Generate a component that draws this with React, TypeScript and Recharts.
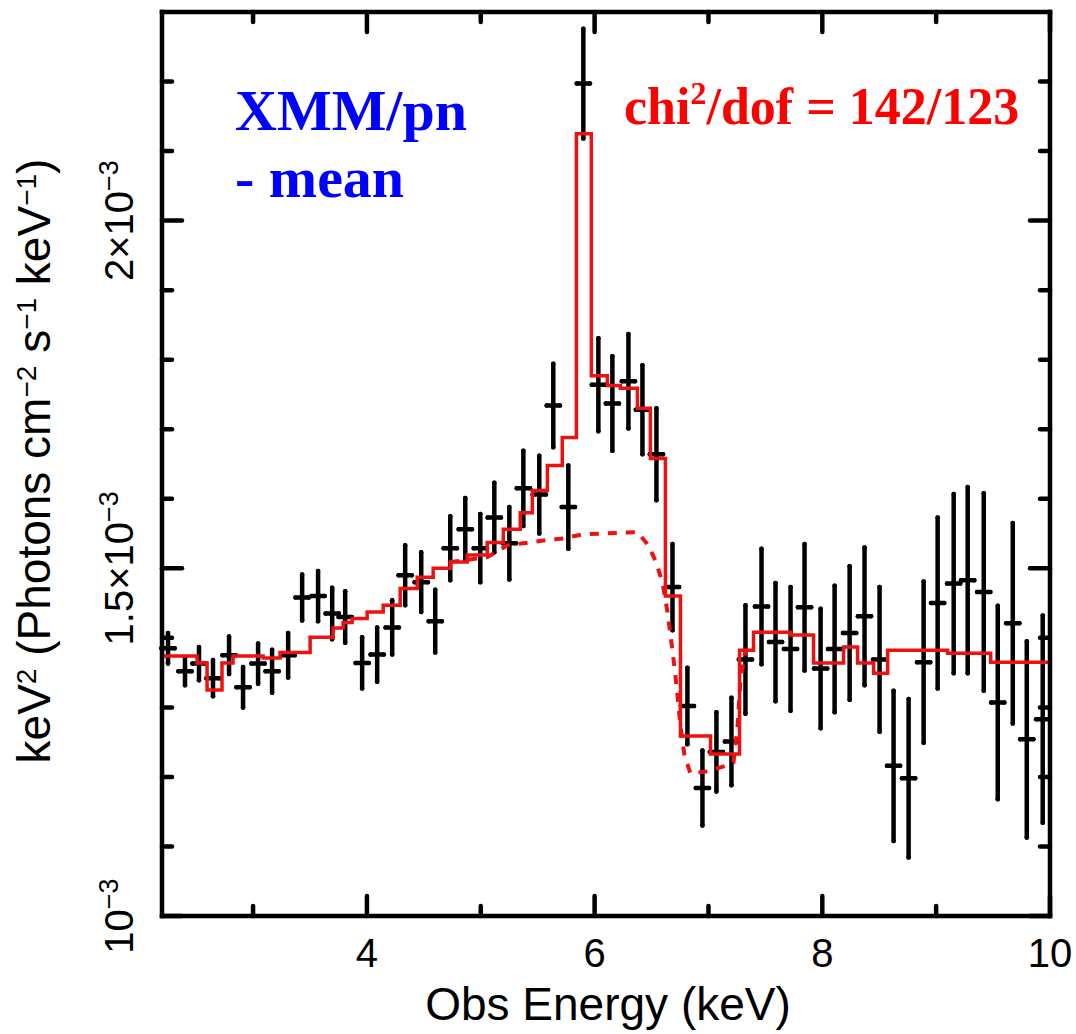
import React from 'react';
import { ComposedChart, Scatter, Line, XAxis, YAxis, ErrorBar } from 'recharts';

// Observed energy (keV), bin centres
const ENERGY = [
  2.253, 2.402, 2.525, 2.648, 2.789, 2.912, 3.044, 3.167, 3.308, 3.431,
  3.571, 3.695, 3.809, 3.958, 4.090, 4.222, 4.336, 4.477, 4.600, 4.732,
  4.864, 4.996, 5.119, 5.251, 5.374, 5.514, 5.637, 5.769, 5.901, 6.033,
  6.156, 6.297, 6.420, 6.543, 6.684, 6.815, 6.947, 7.070, 7.202, 7.325,
  7.466, 7.589, 7.721, 7.844, 7.985, 8.108, 8.240, 8.371, 8.503, 8.626,
  8.758, 8.890, 9.013, 9.154, 9.277, 9.418, 9.541, 9.673, 9.796, 9.936,
];
// keV^2 flux in units of 1e-3
const FLUX = [
  1.385, 1.352, 1.363, 1.342, 1.375, 1.329, 1.363, 1.352, 1.375, 1.458,
  1.460, 1.435, 1.430, 1.364, 1.376, 1.415, 1.490, 1.480, 1.424, 1.529,
  1.556, 1.529, 1.573, 1.536, 1.615, 1.606, 1.734, 1.588, 2.197, 1.764,
  1.737, 1.769, 1.728, 1.664, 1.473, 1.302, 1.184, 1.236, 1.251, 1.369,
  1.445, 1.394, 1.384, 1.444, 1.356, 1.384, 1.407, 1.431, 1.369, 1.216,
  1.198, 1.365, 1.450, 1.478, 1.483, 1.466, 1.307, 1.421, 1.254, 1.283,
];
const FLUX_ERR = [
  0.022, 0.020, 0.024, 0.026, 0.027, 0.029, 0.029, 0.031, 0.032, 0.033,
  0.036, 0.037, 0.037, 0.037, 0.039, 0.039, 0.043, 0.043, 0.045, 0.046,
  0.045, 0.049, 0.050, 0.052, 0.054, 0.056, 0.060, 0.060, 0.079, 0.067,
  0.068, 0.068, 0.064, 0.066, 0.062, 0.055, 0.054, 0.057, 0.063, 0.078,
  0.083, 0.085, 0.089, 0.091, 0.086, 0.091, 0.096, 0.099, 0.104, 0.108,
  0.114, 0.116, 0.123, 0.129, 0.134, 0.142, 0.139, 0.144, 0.141, 0.149,
];
const BIN_HALF_WIDTH = 0.058;

// Best-fit model (histogram steps): left bin edge, value
const MODEL_E = [
  2.2, 2.508, 2.596, 2.727, 2.824, 3.088, 3.237, 3.501, 3.703, 3.791,
  3.870, 4.002, 4.143, 4.292, 4.442, 4.582, 4.732, 4.881, 5.057, 5.198,
  5.347, 5.453, 5.585, 5.716, 5.840, 5.971, 6.112, 6.226, 6.376, 6.490,
  6.622, 6.754, 7.018, 7.273, 7.396, 7.721, 7.923, 8.187, 8.310, 8.451,
  8.574, 9.101, 9.479, 10.0,
];
const MODEL_F = [
  1.374, 1.364, 1.325, 1.364, 1.374, 1.371, 1.379, 1.401, 1.414, 1.422,
  1.428, 1.437, 1.447, 1.471, 1.487, 1.500, 1.509, 1.519, 1.537, 1.556,
  1.580, 1.612, 1.648, 1.688, 2.125, 1.777, 1.763, 1.759, 1.730, 1.658,
  1.460, 1.259, 1.233, 1.382, 1.408, 1.404, 1.364, 1.387, 1.364, 1.349,
  1.382, 1.378, 1.365, 1.365,
];

// Continuum without the Fe line (dotted)
const CONT_E = [
  4.732, 5.057, 5.233, 5.374, 5.549, 5.725, 5.901, 6.077, 6.376, 6.473,
  6.534, 6.596, 6.640, 6.684, 6.719, 6.754, 6.789, 6.842, 6.991, 7.149,
  7.220, 7.255, 7.281, 7.325,
];
const CONT_F = [
  1.509, 1.516, 1.533, 1.536, 1.540, 1.543, 1.549, 1.550, 1.552, 1.533,
  1.511, 1.480, 1.437, 1.382, 1.332, 1.274, 1.231, 1.205, 1.208, 1.216,
  1.221, 1.272, 1.339, 1.382,
];

const X_TICKS = [3, 4, 5, 6, 7, 8, 9, 10];
const X_MAJOR = [4, 6, 8, 10];
const Y_TICKS = [1.0, 1.1, 1.2, 1.3, 1.4, 1.5, 1.6, 1.7, 1.8, 1.9, 2.0, 2.1, 2.2];
const Y_MAJOR_LABELS: Record<string, string> = { '1': '', '1.5': '1.5×', '2': '2×' };

const points = ENERGY.map((e, i) => ({ x: e, y: FLUX[i], xErr: BIN_HALF_WIDTH, yErr: FLUX_ERR[i] }));
const model = MODEL_E.map((e, i) => ({ x: e, y: MODEL_F[i] }));
const cont = CONT_E.map((e, i) => ({ x: e, y: CONT_F[i] }));

const SANS = 'Liberation Sans, Arial, Helvetica, sans-serif';
const SERIF = 'Liberation Serif, Times New Roman, serif';
const TICK_W = 4.5;

const isXMajor = (v: number) => X_MAJOR.some((m) => Math.abs(m - v) < 1e-6);
const isYMajor = (v: number) => Math.abs(v * 2 - Math.round(v * 2)) < 1e-6;

const BottomTick = (props: any) => {
  const { x, y, payload } = props;
  const major = isXMajor(payload.value);
  const len = major ? 20 : 10;
  return (
    <g>
      <line x1={x} y1={y} x2={x} y2={y - len} stroke="#000" strokeWidth={TICK_W} strokeLinecap="round" />
      {major && (
        <text x={x} y={y + 51} textAnchor="middle" fontSize={40} fontFamily={SANS} fill="#000">
          {payload.value}
        </text>
      )}
    </g>
  );
};

const TopTick = (props: any) => {
  const { x, y, payload } = props;
  const len = isXMajor(payload.value) ? 20 : 10;
  return <line x1={x} y1={y} x2={x} y2={y + len} stroke="#000" strokeWidth={TICK_W} strokeLinecap="round" />;
};

const LeftTick = (props: any) => {
  const { x, y, payload } = props;
  const v = payload.value;
  const major = isYMajor(v);
  const len = major ? 20 : 10;
  const key = String(Math.round(v * 10) / 10);
  const lx = x - 29;
  return (
    <g>
      <line x1={x} y1={y} x2={x + len} y2={y} stroke="#000" strokeWidth={TICK_W} strokeLinecap="round" />
      {major && (
        <text x={lx} y={y} transform={`rotate(-90 ${lx} ${y})`} textAnchor="middle" fontSize={40} fontFamily={SANS} fill="#000">
          {Y_MAJOR_LABELS[key]}10
          <tspan dy={-15} fontSize={27}>−3</tspan>
        </text>
      )}
    </g>
  );
};

const RightTick = (props: any) => {
  const { x, y, payload } = props;
  const len = isYMajor(payload.value) ? 20 : 10;
  return <line x1={x} y1={y} x2={x - len} y2={y} stroke="#000" strokeWidth={TICK_W} strokeLinecap="round" />;
};

const NoShape = () => <g />;

const axisLine = { stroke: '#000', strokeWidth: 4.5, strokeLinecap: 'square' as const };

export default function App() {
  return (
    <div style={{ position: 'absolute', left: 0, top: 0, width: 1076, height: 1034, background: '#fff' }}>
      <ComposedChart width={1076} height={1034} margin={{ top: 11, right: 25, bottom: 117, left: 161 }}>
        <XAxis
          xAxisId="b" type="number" dataKey="x" domain={[2.2, 10]} allowDataOverflow
          ticks={X_TICKS} interval={0} height={1} tickSize={0} tickMargin={0} tickLine={false}
          axisLine={axisLine} tick={BottomTick}
        />
        <XAxis
          xAxisId="t" orientation="top" type="number" dataKey="x" domain={[2.2, 10]} allowDataOverflow
          ticks={X_TICKS} interval={0} height={1} tickSize={0} tickMargin={0} tickLine={false}
          axisLine={axisLine} tick={TopTick}
        />
        <YAxis
          yAxisId="l" type="number" dataKey="y" domain={[1.0, 2.3]} allowDataOverflow
          ticks={Y_TICKS} interval={0} width={1} tickSize={0} tickMargin={0} tickLine={false}
          axisLine={axisLine} tick={LeftTick}
        />
        <YAxis
          yAxisId="r" orientation="right" type="number" dataKey="y" domain={[1.0, 2.3]} allowDataOverflow
          ticks={Y_TICKS} interval={0} width={1} tickSize={0} tickMargin={0} tickLine={false}
          axisLine={axisLine} tick={RightTick}
        />
        <Scatter xAxisId="b" yAxisId="l" data={points} dataKey="y" shape={NoShape} isAnimationActive={false}>
          <ErrorBar dataKey="xErr" direction="x" width={0} stroke="#000" strokeWidth={4.5} strokeLinecap="round" isAnimationActive={false} />
          <ErrorBar dataKey="yErr" direction="y" width={0} stroke="#000" strokeWidth={4.5} strokeLinecap="round" isAnimationActive={false} />
        </Scatter>
        <Line
          xAxisId="b" yAxisId="l" data={cont} dataKey="y" type="linear" stroke="#ee1111"
          strokeWidth={4} strokeDasharray="9 9" dot={false} activeDot={false} isAnimationActive={false}
        />
        <Line
          xAxisId="b" yAxisId="l" data={model} dataKey="y" type="stepAfter" stroke="#ee1111"
          strokeWidth={3.5} dot={false} activeDot={false} isAnimationActive={false}
        />
        <Scatter xAxisId="t" yAxisId="r" data={[]} dataKey="y" shape={NoShape} isAnimationActive={false} />
      </ComposedChart>
      <svg width={1076} height={1034} style={{ position: 'absolute', left: 0, top: 0, pointerEvents: 'none' }}>
        <text x={608} y={1020} textAnchor="middle" fontSize={46} fontFamily={SANS} fill="#000">
          Obs Energy (keV)
        </text>
        <text x={50} y={461} transform="rotate(-90 50 461)" textAnchor="middle" fontSize={46} fontFamily={SANS} fill="#000">
          keV<tspan dy={-14} fontSize={28}>2</tspan>
          <tspan dy={14}> (Photons cm</tspan>
          <tspan dy={-14} fontSize={28}>−2</tspan>
          <tspan dy={14}> s</tspan>
          <tspan dy={-14} fontSize={28}>−1</tspan>
          <tspan dy={14}> keV</tspan>
          <tspan dy={-14} fontSize={28}>−1</tspan>
          <tspan dy={14}>)</tspan>
        </text>
        <text x={235} y={130} fontSize={58} fontWeight="bold" fontFamily={SERIF} fill="#0000ff">XMM/pn</text>
        <text x={235} y={197} fontSize={58} fontWeight="bold" fontFamily={SERIF} fill="#0000ff">- mean</text>
        <text x={624} y={124} fontSize={52} fontWeight="bold" fontFamily={SERIF} fill="#ff0000">
          chi<tspan dy={-20} fontSize={32}>2</tspan>
          <tspan dy={20}>/dof = 142/123</tspan>
        </text>
      </svg>
    </div>
  );
}
